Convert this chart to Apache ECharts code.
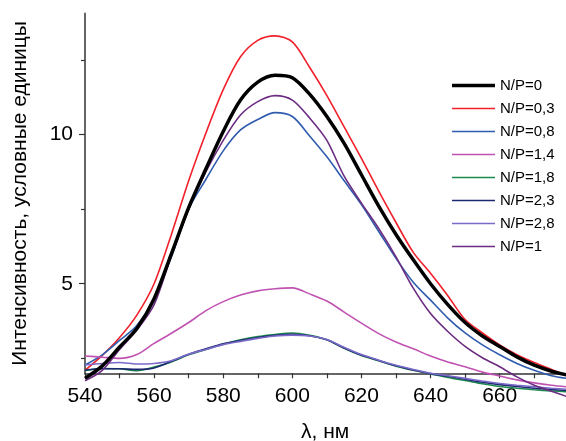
<!DOCTYPE html>
<html>
<head>
<meta charset="utf-8">
<script src="https://cdn.jsdelivr.net/npm/echarts@6/dist/echarts.min.js"></script>
<style>html,body{margin:0;padding:0;background:#fff;}#c{width:566px;height:441px;}</style>
</head>
<body>
<div id="c"></div>
<script>
const wavelengths = [540,545,550,555,560,565,570,575,580,585,590,595,600,605,610,615,620,625,630,635,640,645,650,655,660,665,670,675,680];
const np0  = [1.83,2.25,2.88,3.50,4.50,6.00,7.55,8.85,10.10,11.15,11.75,11.98,11.90,11.35,10.60,9.70,8.65,7.60,6.65,5.80,5.00,4.30,3.70,3.25,2.90,2.55,2.27,2.07,1.93];
const np03 = [2.10,2.60,3.20,3.95,5.00,6.65,8.45,10.05,11.50,12.60,13.15,13.30,13.10,12.25,11.30,10.25,9.20,8.10,7.05,6.05,5.35,4.60,3.80,3.35,2.95,2.62,2.36,2.13,1.90];
const np08 = [2.28,2.62,3.10,3.60,4.50,5.90,7.50,8.50,9.45,10.15,10.50,10.73,10.60,9.95,9.25,8.45,7.65,6.75,5.85,5.05,4.45,3.85,3.35,2.95,2.62,2.33,2.10,1.92,1.82];
const np14 = [2.58,2.54,2.50,2.63,3.00,3.34,3.70,4.10,4.40,4.62,4.76,4.83,4.86,4.66,4.42,4.05,3.68,3.33,3.05,2.82,2.58,2.38,2.22,2.04,1.91,1.78,1.68,1.60,1.54];
const np18 = [2.09,2.16,2.15,2.09,2.21,2.38,2.62,2.80,2.97,3.12,3.23,3.30,3.35,3.27,3.12,2.84,2.60,2.42,2.24,2.10,1.98,1.86,1.76,1.65,1.56,1.50,1.45,1.41,1.38];
const np23 = [2.11,2.15,2.15,2.13,2.18,2.40,2.64,2.82,2.99,3.10,3.20,3.27,3.31,3.26,3.12,2.85,2.61,2.43,2.25,2.11,1.99,1.90,1.80,1.70,1.62,1.56,1.50,1.46,1.42];
const np28 = [2.28,2.33,2.36,2.31,2.33,2.42,2.64,2.80,2.96,3.07,3.17,3.25,3.28,3.25,3.13,2.87,2.63,2.44,2.27,2.13,2.00,1.92,1.83,1.74,1.66,1.60,1.55,1.50,1.46];
const np1  = [1.75,2.10,2.80,3.45,4.30,5.95,7.50,8.75,9.80,10.65,11.10,11.30,11.15,10.55,9.80,8.60,7.70,6.85,5.90,4.85,4.00,3.40,2.90,2.52,2.22,1.88,1.60,1.40,1.20];

const seriesNames = ['N/P=0','N/P=0,3','N/P=0,8','N/P=1,4','N/P=1,8','N/P=2,3','N/P=2,8','N/P=1'];
const seriesValues = [np0, np03, np08, np14, np18, np23, np28, np1];
const seriesColors = ['#000000','#f2202a','#2f5cae','#c052b2','#1b8a4c','#1c2870','#7b6ac9','#6b2c82'];
const seriesWidths = [3.5,1.6,1.6,1.6,1.6,1.6,1.6,1.6];

const xMajorLabels = [540,560,580,600,620,640,660];
const xTicks = [540,550,560,570,580,590,600,610,620,630,640,650,660,670];
const yMajor = [5,10];
const yMinor = [2.5,7.5,12.5];

const FONT = 'Liberation Sans, Arial, Helvetica, sans-serif';
const chart = echarts.init(document.getElementById('c'));

const series = seriesNames.map((name, k) => ({
  name: name,
  type: 'line',
  data: wavelengths.map((x, i) => [x, seriesValues[k][i]]),
  showSymbol: false,
  symbol: 'none',
  smooth: 0.3,
  clip: false,
  z: k === 0 ? 10 : 3,
  lineStyle: { color: seriesColors[k], width: seriesWidths[k] },
  itemStyle: { color: seriesColors[k] },
  emphasis: { disabled: true },
  animation: false
}));

const legendData = seriesNames.map((name, k) => ({
  name: name,
  icon: 'path://M0,0H43V' + seriesWidths[k] + 'H0Z'
}));

chart.setOption({
  animation: false,
  backgroundColor: '#ffffff',
  grid: { left: 85, width: 480.3, top: 13.5, height: 359.8, containLabel: false, outerBoundsMode: 'none' },
  legend: {
    orient: 'vertical',
    left: 452,
    top: 78,
    padding: 0,
    itemWidth: 43,
    itemHeight: 14,
    itemGap: 8.0,
    data: legendData,
    textStyle: { fontFamily: FONT, fontSize: 15, color: '#000', lineHeight: 14 }
  },
  xAxis: [{
    type: 'value',
    min: 540,
    max: 679,
    interval: 10,
    name: 'λ, нм',
    nameLocation: 'middle',
    nameGap: 48,
    nameTextStyle: { fontFamily: FONT, fontSize: 21, color: '#000' },
    axisLine: { show: true, onZero: false, lineStyle: { color: '#333', width: 1.5 } },
    axisTick: { show: true, customValues: xTicks, length: 5, lineStyle: { color: '#333', width: 1.2 } },
    axisLabel: { customValues: xMajorLabels, margin: 12, hideOverlap: false, fontFamily: FONT, fontSize: 21, color: '#000' },
    splitLine: { show: false }
  }],
  yAxis: [{
    type: 'value',
    min: 2,
    max: 14.05,
    name: 'Интенсивность, условные единицы',
    nameLocation: 'middle',
    nameRotate: 90,
    nameGap: 54,
    nameTextStyle: { fontFamily: FONT, fontSize: 21, color: '#000' },
    axisLine: { show: true, onZero: false, lineStyle: { color: '#666', width: 2 } },
    axisTick: { show: true, customValues: yMajor, length: 6, lineStyle: { color: '#333', width: 1.2 } },
    axisLabel: { customValues: yMajor, margin: 12, fontFamily: FONT, fontSize: 21, color: '#000' },
    splitLine: { show: false }
  }, {
    type: 'value',
    min: 2,
    max: 14.05,
    position: 'left',
    axisLine: { show: false },
    axisTick: { show: true, customValues: yMinor, length: 4, lineStyle: { color: '#333', width: 1.2 } },
    axisLabel: { show: false },
    splitLine: { show: false }
  }],
  series: series
});
</script>
</body>
</html>
